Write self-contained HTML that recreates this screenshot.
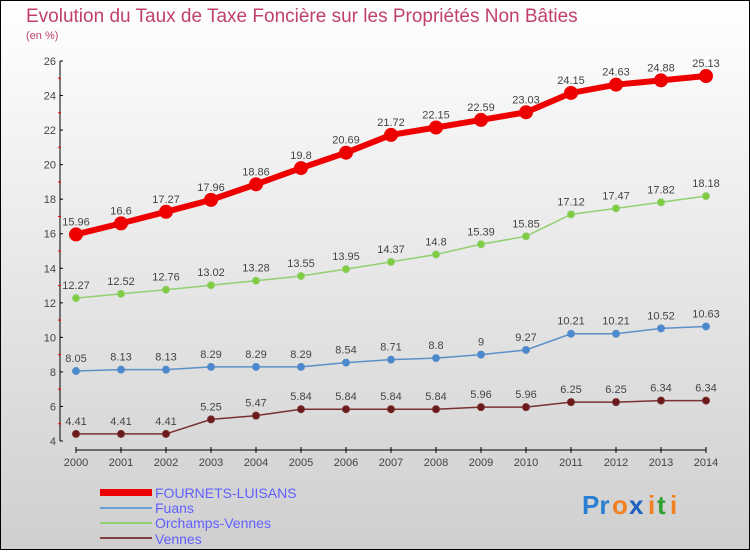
<!DOCTYPE html>
<html><head><meta charset="utf-8"><style>
html,body{margin:0;padding:0}
body{width:750px;height:550px;overflow:hidden;font-family:"Liberation Sans",sans-serif}
svg text{font-family:"Liberation Sans",sans-serif}
</style></head><body>
<svg id="chart" width="750" height="550" xmlns="http://www.w3.org/2000/svg">
<defs><linearGradient id="bg" x1="0" y1="0" x2="0" y2="1"><stop offset="0" stop-color="#ffffff"/><stop offset="1" stop-color="#cfcfcf"/></linearGradient></defs>
<rect x="0.5" y="0.5" width="749" height="549" fill="url(#bg)" stroke="#000" stroke-width="1"/>
<text x="26" y="22" font-size="19" fill="#c0406a">Evolution du Taux de Taxe Foncière sur les Propriétés Non Bâties</text>
<text x="26" y="39" font-size="11" fill="#c0406a">(en %)</text>
<g id="axes"></g>
<g id="series"></g>
<g>
<rect x="100" y="489" width="52" height="7" fill="#ee0000"/>
<text x="155" y="498" font-size="14" fill="#6060ff">FOURNETS-LUISANS</text>
<rect x="100" y="507" width="52" height="2" fill="#6aa0d0"/>
<text x="155" y="513" font-size="14" fill="#6060ff">Fuans</text>
<rect x="100" y="522" width="52" height="2" fill="#90d070"/>
<text x="155" y="528" font-size="14" fill="#6060ff">Orchamps-Vennes</text>
<rect x="100" y="537" width="52" height="2" fill="#804040"/>
<text x="155" y="544" font-size="14" fill="#6060ff">Vennes</text>
</g>
<g font-size="26" font-weight="bold">
<text x="582" y="514" fill="#2a7fd0">Pr</text><text x="612" y="514" fill="#f08020">o</text><text x="629" y="514" fill="#2060c0">x</text><text x="648" y="514" fill="#f08020">i</text><text x="657" y="514" fill="#30a030">t</text><text x="670" y="514" fill="#f08020">i</text>
</g>
</svg>
<script>
const years=[2000,2001,2002,2003,2004,2005,2006,2007,2008,2009,2010,2011,2012,2013,2014];
const fournets=[15.96,16.6,17.27,17.96,18.86,19.8,20.69,21.72,22.15,22.59,23.03,24.15,24.63,24.88,25.13];
const fuans=[8.05,8.13,8.13,8.29,8.29,8.29,8.54,8.71,8.8,9,9.27,10.21,10.21,10.52,10.63];
const orchamps=[12.27,12.52,12.76,13.02,13.28,13.55,13.95,14.37,14.8,15.39,15.85,17.12,17.47,17.82,18.18];
const vennes=[4.41,4.41,4.41,5.25,5.47,5.84,5.84,5.84,5.84,5.96,5.96,6.25,6.25,6.34,6.34];
const yTicks=[4,6,8,10,12,14,16,18,20,22,24,26];
const NS="http://www.w3.org/2000/svg";
const xS=i=>76+i*45;
const yS=v=>441-(v-4)*(380/22);
function mk(tag,attrs,parent){const e=document.createElementNS(NS,tag);for(const k in attrs)e.setAttribute(k,attrs[k]);parent.appendChild(e);return e;}
const axes=document.getElementById('axes');
let a=mk('line',{x1:60,y1:yS(26),x2:60,y2:yS(4),stroke:'#000','stroke-width':1},axes);


yTicks.forEach(t=>{
 mk('line',{x1:60,y1:yS(t),x2:63,y2:yS(t),stroke:'#000'},axes);
 if(t<26) mk('line',{x1:58,y1:yS(t+1),x2:61,y2:yS(t+1),stroke:'#f00'},axes);
 const tx=mk('text',{x:56,y:yS(t)+4,'font-size':11,'text-anchor':'end',fill:'#444'},axes);
 tx.textContent=t;
 
 
});
let xa=mk('line',{x1:76,y1:450,x2:706,y2:450,stroke:'#000','stroke-width':1},axes);


years.forEach((y,i)=>{
 mk('line',{x1:xS(i),y1:447,x2:xS(i),y2:453,stroke:'#000'},axes);
 const tx=mk('text',{x:xS(i),y:466,'font-size':11,'text-anchor':'middle',fill:'#444'},axes);
 tx.textContent=y;
 
 
});
const ser=document.getElementById('series');
function draw(name,vals,color,lw,r,fill){
 const g=mk('g',{},ser);
 
 
 const p=mk('polyline',{points:vals.map((v,i)=>xS(i)+','+yS(v)).join(' '),fill:'none',stroke:color,'stroke-width':lw},g);
 
 
 vals.forEach((v,i)=>{
  const c=mk('circle',{cx:xS(i),cy:yS(v),r:r,fill:fill,stroke:color,'stroke-width':1},g);
  
  
  const t=mk('text',{x:xS(i),y:yS(v)-9,'font-size':11,'text-anchor':'middle',fill:'#444'},g);
  t.textContent=v;
  
  
 });
}
draw('vennes',vennes,'#7a3030',1.5,3.5,'#6a1a1a');
draw('fuans',fuans,'#5a90c8',1.5,3.5,'#4a88d0');
draw('orchamps-vennes',orchamps,'#90d070',1.5,3.5,'#80cc40');
draw('fournets-luisans',fournets,'#ee0000',6,6.5,'#ee0000');
</script>
</body></html>
